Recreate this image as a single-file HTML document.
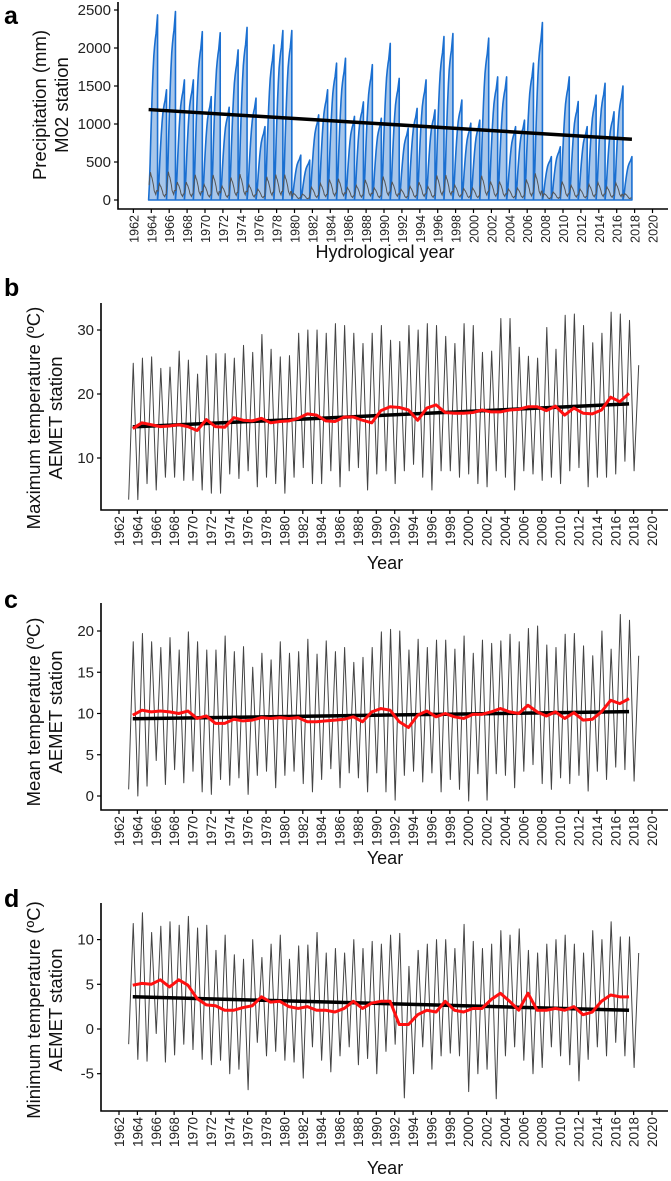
<!DOCTYPE html>
<html><head><meta charset="utf-8">
<style>
html,body{margin:0;padding:0;background:#fff;}
svg{display:block;font-family:"Liberation Sans",Arial,sans-serif;}
</style></head>
<body>
<svg id="fig" width="671" height="1181" viewBox="0 0 671 1181" xmlns="http://www.w3.org/2000/svg"></svg>
<script>
// ---------- data ----------
const tickYears = [1962,1964,1966,1968,1970,1972,1974,1976,1978,1980,1982,1984,1986,1988,1990,1992,1994,1996,1998,2000,2002,2004,2006,2008,2010,2012,2014,2016,2018,2020];
// panel a: annual cumulative precipitation totals per hydrological year (start 1963.7)
const precipTotals = [2435,1450,2480,1580,1580,2215,1360,2200,1220,1975,2270,1340,965,2040,2230,2230,590,525,1120,1450,1800,1865,1100,1290,1780,1075,2060,1600,945,1205,1580,1185,2150,2190,1315,1010,1050,2130,1620,1620,965,1050,1800,2335,570,700,1620,1295,965,1380,1535,1160,1500,570];
const cumFraction = [0.08,0.2,0.35,0.48,0.6,0.7,0.78,0.83,0.87,0.9,0.95,1.0];
const precipTrendYears = [1963.7,2017.7];
const precipTrendValues = [1190,800];
const precipTicks = [0,500,1000,1500,2000,2500];
// panel b: max temperature
const maxPeaks = [24.8,25.6,25.8,24,24.2,26.7,25.3,23.1,26,26.3,26.3,25.6,27.6,26.5,29.3,27,25.8,26,29.5,30,30,29.5,31,30.7,29.5,27.9,29.5,30.7,28.4,28.2,30.7,30,31,30.7,29,27.9,31,30.7,26.5,26.7,31.8,31.8,27.3,25.9,25.6,30.4,27,32.3,32.5,30.7,28,29.5,32.8,32.5,31.5,24.5];
const maxTroughs = [3.5,3.5,6,5,7,7,6.5,6.5,5,4.5,4.5,7.5,6.8,8,5.5,7,6,4.5,7,8.5,6,6,8,5.5,8,8.5,5,7.5,8,6,8,9,7,5,8,8,7,7.5,6,5.5,8,7,5,8,7.5,6.5,7,6,8,8.5,5.5,7,7,7.5,9.5,8];
const maxAnnual = [14.6,15.5,15.2,14.9,15.0,15.2,14.9,14.3,16.0,14.9,14.8,16.3,15.9,15.8,16.2,15.5,15.7,15.8,16.2,16.9,16.7,15.8,15.7,16.4,16.4,15.9,15.5,17.4,18.0,17.9,17.5,15.9,17.8,18.3,17.1,17.0,17.0,17.1,17.5,17.2,17.2,17.5,17.6,18.0,18.0,17.4,18.1,16.7,17.8,17.0,16.9,17.5,19.5,18.8,20.1];
const maxTicks = [10,20,30];
// panel c: mean temperature
const meanPeaks = [18.7,19.7,18.7,18,19.2,17.7,19.9,18.7,17.7,17.7,19.4,17.5,18.1,15.6,17.3,16.5,18.7,17.3,17.5,19,17.2,18.8,17.5,18,16.2,16.8,18,19.9,20.2,20,17.7,19,18,18.9,18.9,17.8,19.4,17.3,18.9,18.5,18.8,19.6,18.7,20.3,20.6,18.3,18,19.6,19.7,18.2,17,20,17.8,22,21.3,17];
const meanTroughs = [0.8,0,1.2,4.3,1.4,3.2,1.6,3,0.5,0.2,2,1.3,2.2,0.2,2.5,3,1,2.5,3,1.5,0.5,2,3.3,1,2.8,2.2,0.5,2.8,0.5,-0.5,2.5,3,1.7,2.8,0.5,2,0.8,-0.6,2.7,-0.5,2.7,2.5,1,3,3.8,1.5,0.8,2.2,1.5,2.5,0.6,3,2,3.5,3.2,1.8];
const meanAnnual = [9.8,10.4,10.2,10.3,10.2,10.0,10.3,9.4,9.7,8.8,8.8,9.3,9.1,9.2,9.5,9.4,9.5,9.4,9.5,9.0,9.0,9.1,9.2,9.3,9.6,9.0,10.2,10.6,10.4,9.0,8.3,9.8,10.3,9.6,10.0,9.6,9.4,9.9,9.9,10.2,10.6,10.2,10.0,11.0,10.2,9.7,10.2,9.4,10.1,9.2,9.3,10.2,11.6,11.2,11.8];
const meanTicks = [0,5,10,15,20];
// panel d: minimum temperature
const minPeaks = [11.8,13,10.8,11.5,12,11.6,12.6,11.3,11.6,8.8,10.5,8.3,7.8,10,8,9.5,10.5,7.8,9.3,9.4,10.8,8.5,9,8.5,10,9,9.8,9.5,10.5,10.7,7,8.8,9.5,10,10,9,11.7,9.8,9,9.5,11,10.5,11.2,8.8,8.5,9.5,10,10.5,9.5,8.5,11,10,12,10.3,10.3,8.5];
const minTroughs = [-1.7,-3.4,-3.6,-0.5,-3.7,-2.9,-1.7,-2.3,-3.4,-4,-3.5,-5,-4.5,-6.8,-1.5,-3,-2.5,-3.5,-3.7,-5.5,-2,-3.5,-4.8,-3,-2,-4,-3.3,-5,-2.5,-1.7,-7.7,-5,-2,-4.5,-3,-2.7,-3,-7,-5,-4.5,-7.8,-3,-2,-3.5,-5,-4.3,-2,-3,-4,-5.8,-3.4,-2,-3,-1.5,-3,-4.3];
const minAnnual = [4.9,5.1,5.0,5.5,4.7,5.5,4.9,3.4,2.7,2.6,2.1,2.1,2.4,2.6,3.6,3.0,3.1,2.5,2.3,2.5,2.1,2.1,1.9,2.3,3.1,2.3,2.9,3.1,3.1,0.5,0.5,1.6,2.1,1.9,3.1,2.1,1.9,2.3,2.3,3.3,4.0,3.1,2.1,4.0,2.1,2.1,2.3,2.1,2.5,1.6,1.9,3.1,3.8,3.6,3.6];
const minTicks = [-5,0,5,10];

// ---------- helpers ----------
const NS = "http://www.w3.org/2000/svg";
const svg = document.getElementById('fig');
function mk(tag, attrs, parent){
  const e = document.createElementNS(NS, tag);
  for (const k in attrs) e.setAttribute(k, attrs[k]);
  (parent||svg).appendChild(e);
  return e;
}
function regress(xs, ys){
  const n = xs.length; let sx=0,sy=0,sxx=0,sxy=0;
  for(let i=0;i<n;i++){sx+=xs[i];sy+=ys[i];sxx+=xs[i]*xs[i];sxy+=xs[i]*ys[i];}
  const b=(n*sxy-sx*sy)/(n*sxx-sx*sx); return {a:(sy-b*sx)/n,b:b};
}

function axes(g, P, ticks, fmt, xTitle){
  const ax = mk('path',{d:`M${P.left},${P.top}V${P.bottom}H668`,stroke:'#000','stroke-width':1.6,fill:'none'},g);
  
  
  ticks.forEach(v=>{
    const y = P.y(v);
    const t = mk('line',{x1:P.left-4,x2:P.left,y1:y,y2:y,stroke:'#000','stroke-width':1.2},g);
    
    
    const l = mk('text',{x:P.left-7,y:y+5,'text-anchor':'end','font-size':15,fill:'#222'},g);
    
    
    l.textContent = fmt ? fmt(v) : v;
  });
  tickYears.forEach(yr=>{
    const x = P.x(yr);
    const t = mk('line',{x1:x,x2:x,y1:P.bottom,y2:P.bottom+4,stroke:'#000','stroke-width':1.2},g);
    
    
    const l = mk('text',{x:0,y:0,'text-anchor':'end','font-size':P.tickFs||13.5,fill:'#222',transform:`translate(${x+5},${P.bottom+6}) rotate(-90)`},g);
    
    
    l.textContent = yr;
  });
  const xt = mk('text',{x:P.xTitleX,y:P.xTitleY,'text-anchor':'middle','font-size':18,fill:'#111'},g);
  
  
  xt.textContent = xTitle;
}
function yTitle(g, lines, cx, cy){
  lines.forEach((s,i)=>{
    const t = mk('text',{x:0,y:0,'text-anchor':'middle','font-size':18.5,fill:'#111',transform:`translate(${cx+i*22},${cy}) rotate(-90)`},g);
    
    
    t.textContent = s;
  });
}
function letter(g, s, x, y){
  const t = mk('text',{x:x,y:y,'font-size':25,'font-weight':'bold',fill:'#000'},g);
  
  
  t.textContent = s;
}

// ---------- panel a ----------
(function(){
  const g = mk('g',{});
  
  
  const P = {left:118, top:2, bottom:209, tickFs:12.5, x:yr=>133.4+(yr-1962)*8.95, y:v=>200-v*0.076, xTitleX:385, xTitleY:258};
  let d = '', grey = '';
  precipTotals.forEach((tot,k)=>{
    const y0 = 1963.7+k;
    d += `M${P.x(y0)},${P.y(0)}`;
    cumFraction.forEach((f,m)=>{ d += `L${P.x(y0+(m+1)/12)},${P.y(tot*f)}`; });
    d += `L${P.x(y0+1)},${P.y(0)}Z`;
    cumFraction.forEach((f,m)=>{
      const prev = m===0?0:cumFraction[m-1];
      const v = tot*(f-prev);
      grey += (grey?'L':'M')+`${P.x(y0+(m+0.5)/12)},${P.y(v)}`;
    });
  });
  const area = mk('path',{d:d,fill:'#a7c6ea',stroke:'#1a6fd1','stroke-width':1.6,'stroke-linejoin':'round'},g);
  
  
  const gl = mk('path',{d:grey,fill:'none',stroke:'#555','stroke-width':1},g);
  
  
  const tr = mk('line',{x1:P.x(precipTrendYears[0]),y1:P.y(precipTrendValues[0]),x2:P.x(precipTrendYears[1]),y2:P.y(precipTrendValues[1]),stroke:'#000','stroke-width':3.5},g);
  
  
  axes(g,P,precipTicks,null,'Hydrological year');
  yTitle(g,['Precipitation (mm)','M02 station'],46,105);
  letter(g,'a',4,24);
})();

// ---------- temperature panels ----------
function tempPanel(name, P, peaks, troughs, annual, ticks, titles, lt, ltY, tCy){
  const g = mk('g',{});
  
  
  let d='';
  const n = Math.min(peaks.length, troughs.length);
  for(let i=0;i<n;i++){
    const yr = 1963+i;
    d += (i===0?'M':'L')+`${P.x(yr+0.05)},${P.y(troughs[i])}L${P.x(yr+0.55)},${P.y(peaks[i])}`;
  }
  const ml = mk('path',{d:d,fill:'none',stroke:'#444','stroke-width':1,'stroke-linejoin':'round'},g);
  
  
  const xs = annual.map((_,i)=>1963.5+i);
  const r = regress(xs, annual);
  const x1=xs[0], x2=xs[xs.length-1];
  const tr = mk('line',{x1:P.x(x1),y1:P.y(r.a+r.b*x1),x2:P.x(x2),y2:P.y(r.a+r.b*x2),stroke:'#000','stroke-width':3.5},g);
  
  
  const rd = annual.map((v,i)=>(i?'L':'M')+`${P.x(xs[i])},${P.y(v)}`).join('');
  const rl = mk('path',{d:rd,fill:'none',stroke:'#ff1010','stroke-width':3,'stroke-linejoin':'round'},g);
  
  
  axes(g,P,ticks,v=>v,'Year');
  yTitle(g,titles,40,tCy);
  letter(g,lt,4,ltY);
}
const tx = yr=>119+(yr-1962)*9.19;
tempPanel('panel-b-max-temperature',{left:101,top:303,bottom:510,x:tx,y:v=>458-(v-10)*6.4,xTitleX:385,xTitleY:569},
  maxPeaks,maxTroughs,maxAnnual,maxTicks,['Maximum temperature (ºC)','AEMET station'],'b',296,418);
tempPanel('panel-c-mean-temperature',{left:101,top:603,bottom:810,x:tx,y:v=>796-v*8.25,xTitleX:385,xTitleY:864},
  meanPeaks,meanTroughs,meanAnnual,meanTicks,['Mean temperature (ºC)','AEMET station'],'c',608,712);
tempPanel('panel-d-min-temperature',{left:101,top:903,bottom:1111,x:tx,y:v=>1029-v*8.94,xTitleX:385,xTitleY:1174},
  minPeaks,minTroughs,minAnnual,minTicks,['Minimum temperature (ºC)','AEMET station'],'d',907,1010);
</script>
</body></html>
